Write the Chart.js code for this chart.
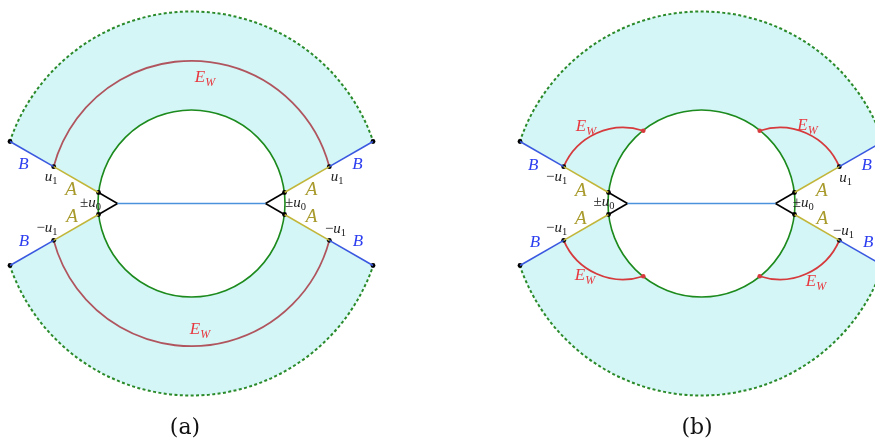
<!DOCTYPE html>
<html>
<head>
<meta charset="utf-8">
<script src="https://cdn.jsdelivr.net/npm/chart.js@4.4.1/dist/chart.umd.min.js"></script>
<style>
  html, body { margin: 0; padding: 0; background: #fff; }
  canvas { display: block; }
</style>
</head>
<body>
<canvas id="diagram" width="875" height="441"></canvas>
<script>
// panel centres (x), both panels share the same y centre
const panelOffsets = [0, 510];

// circle radii
const innerRadius = 93.5;   // green circle
const ewRadius = 142.7;     // E_W arc in (a)
const outerRadius = 192;    // dotted boundary

// one ray (upper right), the others are mirror images
const rayVertex = [74, 0];
const rayInner = [93, 11];
const rayMid = [137.8, 36.85];
const rayOuter = [181.5, 62];

// small E_W arcs of panel (b)
const ewSmallCenter = [78.5, 11.5];
const ewSmallRadius = 64.5;
const ewSmallEnd = [58.2, 72.8];

// labels: [kind, x, y] in panel coordinates
const labelsA = [
  ['B', -168, 38.5], ['B', 166, 38.5], ['B', -167.5, -38.5], ['B', 166.5, -38.5],
  ['u1', -140.5, 26.5], ['u1', 145.5, 26], ['-u1', -144.5, -25], ['-u1', 144, -25.5],
  ['A', -120.5, 13.5], ['A', 120, 13.5], ['A', -119.5, -13.5], ['A', 120, -13.5],
  ['pmu0', -101, 0], ['pmu0', 104, 0],
  ['EW', 13.5, 125.5], ['EW', 8.5, -126.5],
  ['cap_a', -6.5, -224.5]
];
const labelsB = [
  ['B', -168.2, 37.8], ['B', 165.2, 37.8], ['B', -166.5, -38.8], ['B', 166.8, -38.8],
  ['-u1', -144.8, 26.8], ['u1', 144.2, 25.2], ['-u1', -144.8, -24.8], ['-u1', 141.8, -27.5],
  ['A', -120.8, 12.8], ['A', 120.2, 12.8], ['A', -120.8, -15.5], ['A', 120.8, -15.5],
  ['pmu0', -97.5, 1.2], ['pmu0', 101.8, 0.2],
  ['EW', -115.5, 76.5], ['EW', 106, 77.5], ['EW', -116.5, -72.5], ['EW', 114.5, -78.5],
  ['cap_b', -4.5, -224.5]
];

const colors = {
  fill: '#d4f6f7',
  green: '#1c8a1c',
  dotted: '#2a8a2a',
  ewA: '#b0555e',
  ewB: '#d63a3c',
  ewText: '#e8383f',
  yellow: '#c2b63a',
  blue: '#3a58e0',
  mid: '#4b92dc',
  aText: '#a89a2c',
  bText: '#2c3ef0',
  uText: '#222222'
};

const mirrors = [[1, 1], [-1, 1], [1, -1], [-1, -1]];

function seg(ox, p, q, color) {
  return {
    data: [{ x: ox + p[0], y: p[1] }, { x: ox + q[0], y: q[1] }],
    showLine: true, borderColor: color, borderWidth: 1.6,
    pointRadius: 0, pointHoverRadius: 0, fill: false
  };
}

const datasets = [];
const dots = [];
panelOffsets.forEach(ox => {
  datasets.push(seg(ox, [-rayVertex[0], 0], [rayVertex[0], 0], colors.mid));
  mirrors.forEach(([sx, sy]) => {
    const v = [sx * rayVertex[0], sy * rayVertex[1]];
    const g = [sx * rayInner[0], sy * rayInner[1]];
    const m = [sx * rayMid[0], sy * rayMid[1]];
    const o = [sx * rayOuter[0], sy * rayOuter[1]];
    datasets.push(seg(ox, v, g, '#000'));
    datasets.push(seg(ox, g, m, colors.yellow));
    datasets.push(seg(ox, m, o, colors.blue));
    dots.push({ x: ox + g[0], y: g[1] }, { x: ox + m[0], y: m[1] }, { x: ox + o[0], y: o[1] });
  });
});
datasets.push({
  data: dots, showLine: false, pointRadius: 2.4, pointHoverRadius: 2.4,
  pointBackgroundColor: '#000', pointBorderWidth: 0
});

// shorter arc between two points on a circle
function shortArc(ctx, cx, cy, r, x1, y1, x2, y2, moveFirst) {
  const a1 = Math.atan2(y1 - cy, x1 - cx);
  const a2 = Math.atan2(y2 - cy, x2 - cx);
  let d = a2 - a1;
  while (d > Math.PI) d -= 2 * Math.PI;
  while (d < -Math.PI) d += 2 * Math.PI;
  if (moveFirst) ctx.moveTo(x1, y1);
  ctx.arc(cx, cy, r, a1, a1 + d, d < 0);
}

const shapes = {
  id: 'shapes',
  beforeDraw(chart) {
    const ctx = chart.ctx;
    ctx.save();
    ctx.fillStyle = '#fff';
    ctx.fillRect(0, 0, chart.width, chart.height);
    ctx.restore();
  },
  beforeDatasetsDraw(chart) {
    const ctx = chart.ctx;
    const sx = chart.scales.x, sy = chart.scales.y;
    const px = v => sx.getPixelForValue(v);
    const py = v => sy.getPixelForValue(v);
    const k = px(1) - px(0);
    ctx.save();
    panelOffsets.forEach((ox, pi) => {
      const cx = px(ox), cy = py(0);
      // cyan band, upper and lower
      [1, -1].forEach(s => {
        ctx.beginPath();
        shortArc(ctx, cx, cy, outerRadius * k,
          px(ox - rayOuter[0]), py(s * rayOuter[1]), px(ox + rayOuter[0]), py(s * rayOuter[1]), true);
        ctx.lineTo(px(ox + rayInner[0]), py(s * rayInner[1]));
        shortArc(ctx, cx, cy, innerRadius * k,
          px(ox + rayInner[0]), py(s * rayInner[1]), px(ox - rayInner[0]), py(s * rayInner[1]), false);
        ctx.closePath();
        ctx.fillStyle = colors.fill;
        ctx.fill();
        // dotted outer boundary
        ctx.beginPath();
        shortArc(ctx, cx, cy, outerRadius * k,
          px(ox - rayOuter[0]), py(s * rayOuter[1]), px(ox + rayOuter[0]), py(s * rayOuter[1]), true);
        ctx.setLineDash([3, 2.4]);
        ctx.strokeStyle = colors.dotted;
        ctx.lineWidth = 2;
        ctx.stroke();
        ctx.setLineDash([]);
      });
      // green circle
      ctx.beginPath();
      ctx.arc(cx, cy, innerRadius * k, 0, 2 * Math.PI);
      ctx.strokeStyle = colors.green;
      ctx.lineWidth = 1.6;
      ctx.stroke();

      if (pi === 0) {
        [1, -1].forEach(s => {
          ctx.beginPath();
          shortArc(ctx, cx, cy, ewRadius * k,
            px(ox - rayMid[0]), py(s * rayMid[1]), px(ox + rayMid[0]), py(s * rayMid[1]), true);
          ctx.strokeStyle = colors.ewA;
          ctx.lineWidth = 1.8;
          ctx.stroke();
        });
      } else {
        mirrors.forEach(([mx, my]) => {
          const ccx = px(ox + mx * ewSmallCenter[0]), ccy = py(my * ewSmallCenter[1]);
          const ex = px(ox + mx * ewSmallEnd[0]), ey = py(my * ewSmallEnd[1]);
          ctx.beginPath();
          shortArc(ctx, ccx, ccy, ewSmallRadius * k,
            px(ox + mx * rayMid[0]), py(my * rayMid[1]), ex, ey, true);
          ctx.strokeStyle = colors.ewB;
          ctx.lineWidth = 1.8;
          ctx.stroke();
          ctx.beginPath();
          ctx.arc(ex, ey, 2.3, 0, 2 * Math.PI);
          ctx.fillStyle = colors.ewB;
          ctx.fill();
        });
      }
    });
    ctx.restore();
  },
  afterDatasetsDraw(chart) {
    const ctx = chart.ctx;
    const px = v => chart.scales.x.getPixelForValue(v);
    const py = v => chart.scales.y.getPixelForValue(v);
    const serif = '"Liberation Serif", "DejaVu Serif", serif';
    const kinds = {
      B: { size: 17, color: colors.bText, parts: [['B', 'i']] },
      A: { size: 19, color: colors.aText, parts: [['A', 'i']] },
      u1: { size: 15, color: colors.uText, parts: [['u', 'i'], ['1', 'r', 1]] },
      '-u1': { size: 15, color: colors.uText, parts: [['\u2212', 'r'], ['u', 'i'], ['1', 'r', 1]] },
      pmu0: { size: 15, color: colors.uText, parts: [['\u00b1', 'r'], ['u', 'i'], ['0', 'r', 1]] },
      EW: { size: 17, color: colors.ewText, parts: [['E', 'i'], ['W', 'i', 1]] },
      cap_a: { size: 22, color: '#111', parts: [['(a)', 'c']] },
      cap_b: { size: 22, color: '#111', parts: [['(b)', 'c']] }
    };
    function fontFor(p, size) {
      const s = p[2] ? size * 0.7 : size;
      if (p[1] === 'c') return `${s}px "DejaVu Serif", serif`;
      return (p[1] === 'i' ? 'italic ' : '') + `${s}px ${serif}`;
    }
    ctx.save();
    ctx.textBaseline = 'middle';
    ctx.textAlign = 'left';
    panelOffsets.forEach((ox, pi) => {
      const list = pi === 0 ? labelsA : labelsB;
      list.forEach(([kind, x, y]) => {
        const spec = kinds[kind];
        let w = 0;
        spec.parts.forEach(p => { ctx.font = fontFor(p, spec.size); w += ctx.measureText(p[0]).width; });
        let cx = px(ox + x) - w / 2;
        const cy = py(y);
        ctx.fillStyle = spec.color;
        spec.parts.forEach(p => {
          ctx.font = fontFor(p, spec.size);
          ctx.fillText(p[0], cx, p[2] ? cy + spec.size * 0.28 : cy);
          cx += ctx.measureText(p[0]).width;
        });
      });
    });
    ctx.restore();
  }
};

new Chart(document.getElementById('diagram'), {
  type: 'scatter',
  data: { datasets: datasets },
  options: {
    responsive: false,
    animation: false,
    events: [],
    layout: { padding: 0, autoPadding: false },
    plugins: { legend: { display: false }, tooltip: { enabled: false } },
    scales: {
      x: { type: 'linear', min: -191.5, max: 683.5, display: false },
      y: { type: 'linear', min: -237.5, max: 203.5, display: false }
    }
  },
  plugins: [shapes]
});
</script>
</body>
</html>
